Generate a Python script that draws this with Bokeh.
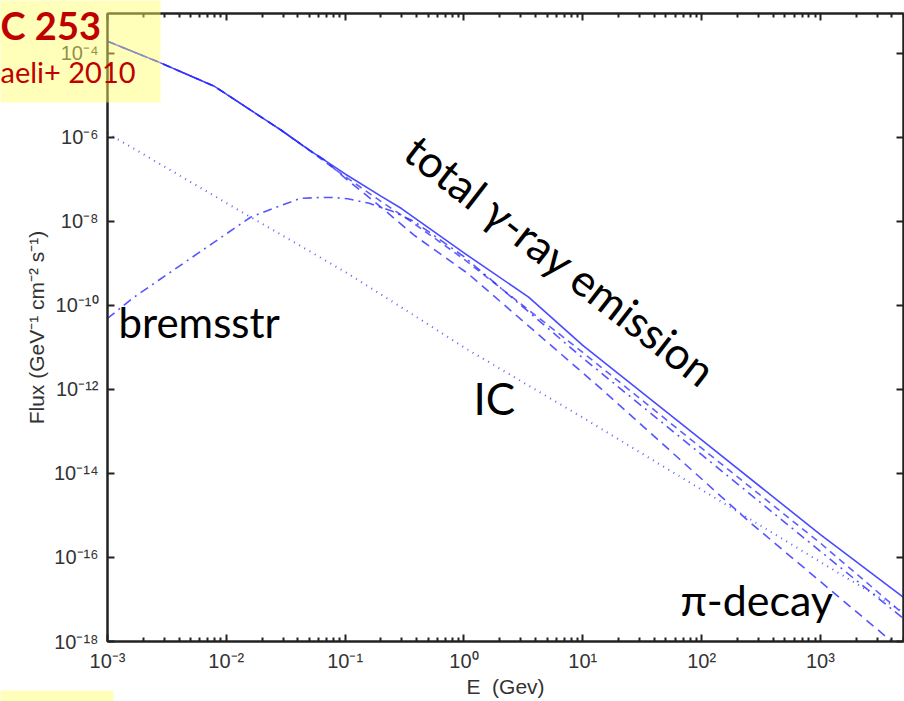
from bokeh.plotting import figure
from bokeh.models import (LinearAxis, FixedTicker, Label, Range1d, CustomJSTickFormatter)
from bokeh.core.properties import value
from bokeh.embed import file_html
from bokeh.resources import INLINE
import math

# ---------------- data ----------------
total_E = [1e-3, 2.7e-3, 7.9e-3, 0.029, 0.05, 0.1, 0.2, 0.3, 1.0, 3.5, 10, 100, 1000, 5000]
total_F = [1.95e-4, 6.2e-5, 1.66e-5, 1.48e-6, 5.0e-7, 1.35e-7, 4.0e-8, 2.0e-8, 1.78e-9,
           1.58e-10, 1.12e-11, 6.3e-14, 3.5e-16, 1.12e-17]

# upper dashed component (merges with the total below ~50 MeV)
dashA_E = [1e-3, 2.7e-3, 7.9e-3, 0.029, 0.05, 0.1, 0.2, 0.38, 1.0, 10, 100, 537, 1000, 5000]
dashA_F = [1.95e-4, 6.2e-5, 1.66e-5, 1.48e-6, 4.9e-7, 1.17e-7, 3.0e-8, 8.9e-9, 1.26e-9,
           7.6e-12, 4.0e-14, 8.9e-16, 2.2e-16, 4.5e-18]

# lower dashed component
dashB_E = [1e-3, 2.7e-3, 7.9e-3, 0.029, 0.05, 0.066, 0.1, 0.2, 0.38, 1.08, 14.2, 261, 3980]
dashB_F = [1.95e-4, 6.2e-5, 1.66e-5, 1.48e-6, 5.0e-7, 3.0e-7, 1.07e-7, 2.2e-8, 4.7e-9,
           5.75e-10, 1.05e-12, 6.5e-16, 1e-18]

brems_E = [1e-3, 1.66e-3, 5e-3, 0.016, 0.03, 0.042, 0.06, 0.08, 0.105, 0.16, 0.25, 0.38,
           1, 10, 100, 1000, 5000]
brems_F = [4.9e-11, 1.55e-10, 1.32e-9, 1.26e-8, 2.5e-8, 3.55e-8, 3.7e-8, 3.7e-8, 3.47e-8,
           2.7e-8, 1.74e-8, 1.0e-8, 1.45e-9, 5.6e-12, 2.8e-14, 1.4e-16, 3.5e-18]

ic_E = [1e-3, 0.01, 0.1, 0.3, 1, 10, 100, 1000, 5000]
ic_F = [1.26e-6, 2.75e-8, 6.3e-10, 8.9e-11, 1.0e-11, 2.14e-13, 4.1e-15, 7.8e-17, 5.0e-18]

x_major_ticks = [1e-3, 1e-2, 1e-1, 1e0, 1e1, 1e2, 1e3]
x_tick_labels = ["10\u207b\u00b3", "10\u207b\u00b2", "10\u207b\u00b9", "10\u2070", "10\u00b9", "10\u00b2", "10\u00b3"]
y_major_ticks = [1e-18, 1e-16, 1e-14, 1e-12, 1e-10, 1e-8, 1e-6, 1e-4]
y_tick_labels = ["10\u207b\u00b9\u2078", "10\u207b\u00b9\u2076", "10\u207b\u00b9\u2074", "10\u207b\u00b9\u00b2",
                 "10\u207b\u00b9\u2070", "10\u207b\u2078", "10\u207b\u2076", "10\u207b\u2074"]
x_minor_ticks = [m * d for d in x_major_ticks for m in range(2, 10)]

X0, X1 = 1e-3, 5e3
Y0, Y1 = 1e-18, 10 ** -3.05

# ---------------- figure ----------------
W, H = 904, 701
BL, BR, BT, BB = 107, 1, 13, 60
p = figure(width=W, height=H, x_axis_type="log", y_axis_type="log",
           x_range=Range1d(X0, X1), y_range=Range1d(Y0, Y1),
           output_backend="svg", toolbar_location=None,
           min_border_left=BL, min_border_right=BR, min_border_top=BT, min_border_bottom=BB)
p.background_fill_color = "white"
p.border_fill_color = "white"
p.grid.visible = False
p.outline_line_color = "#222222"
p.outline_line_width = 2

FW, FH = W - BL - BR, H - BT - BB

def canvas_x(px):
    lx0, lx1 = math.log10(X0), math.log10(X1)
    return 10 ** (lx0 + (px - BL) / FW * (lx1 - lx0))

def canvas_y(py):
    ly0, ly1 = math.log10(Y0), math.log10(Y1)
    return 10 ** (ly0 + (BT + FH - py) / FH * (ly1 - ly0))

LOOKUP = """
for (let i = 0; i < vals.length; i++) {
  if (Math.abs(Math.log10(tick) - Math.log10(vals[i])) < 1e-6) return labs[i];
}
return '';
"""

def style_axis(ax, ticks, minor, labs=None):
    ax.ticker = FixedTicker(ticks=ticks, minor_ticks=minor)
    ax.axis_line_color = "#222222"
    ax.axis_line_width = 2
    ax.major_tick_in = 7
    ax.major_tick_out = 0
    ax.minor_tick_in = 4
    ax.minor_tick_out = 0
    ax.major_tick_line_color = "#222222"
    ax.minor_tick_line_color = "#222222"
    ax.major_tick_line_width = 2
    ax.minor_tick_line_width = 2
    ax.major_label_text_font = "Liberation Sans"
    ax.axis_label_text_font = "Liberation Sans"
    ax.axis_label_text_font_style = "normal"
    ax.axis_label_text_color = "#333333"
    if labs is not None:
        ax.formatter = CustomJSTickFormatter(args=dict(vals=ticks, labs=labs), code=LOOKUP)
        ax.major_label_text_font_size = "20px"
        ax.major_label_text_color = "#333333"
    else:
        ax.formatter = CustomJSTickFormatter(code="return ' ';")
        ax.major_label_text_font_size = "6px"
        ax.major_label_text_alpha = 0
        ax.major_label_standoff = 0

style_axis(p.xaxis[0], x_major_ticks, x_minor_ticks, x_tick_labels)
style_axis(p.yaxis[0], y_major_ticks, [], y_tick_labels)
p.xaxis[0].major_label_standoff = 8
p.yaxis[0].major_label_standoff = 9
p.xaxis[0].axis_label = "E\u00a0\u00a0(Gev)"
p.xaxis[0].axis_label_text_font_size = "21px"
p.xaxis[0].axis_label_standoff = 0
p.yaxis[0].axis_label = "Flux (GeV\u207b\u00b9 cm\u207b\u00b2 s\u207b\u00b9)"
p.yaxis[0].axis_label_text_font_size = "21px"
p.yaxis[0].axis_label_standoff = 3

top_ax = LinearAxis()
style_axis(top_ax, x_major_ticks, x_minor_ticks)
p.add_layout(top_ax, "above")
right_ax = LinearAxis()
style_axis(right_ax, y_major_ticks, [])
p.add_layout(right_ax, "right")

# ---------------- curves ----------------
blue = "#2a2aff"
p.line(ic_E, ic_F, line_color=blue, line_width=2, line_dash="1 5", line_alpha=0.75)
p.line(brems_E, brems_F, line_color=blue, line_width=1.6, line_dash="9 5 2 5", line_alpha=0.8)
p.line(dashB_E, dashB_F, line_color=blue, line_width=1.6, line_dash="9 6", line_alpha=0.8)
p.line(dashA_E, dashA_F, line_color=blue, line_width=1.6, line_dash="7 5", line_alpha=0.75)
p.line(total_E, total_F, line_color=blue, line_width=1.6, line_alpha=0.85)

# ---------------- annotations (screen units relative to the frame) ----------------
fnt = "Lato"
def lab(x, y, text, size, **kw):
    p.add_layout(Label(x=x, y=y, x_units="screen", y_units="screen", text=text,
                       text_font=fnt, text_font_size=size, text_color="black", **kw))

lab(11, 295, "bremsstr", "42px")
lab(366, 218, "IC", "44px")
lab(573, 17, "\u03c0-decay", "43px")
lab(288, 477, "total \u03b3-ray emission", "44px", angle=-0.66)

# yellow overlay boxes of the cropped title slide, drawn above the axes
p.quad(left=[canvas_x(0), canvas_x(0)], right=[canvas_x(160), canvas_x(113)],
       top=[canvas_y(0), canvas_y(690)], bottom=[canvas_y(102), canvas_y(701)],
       fill_color="#ffff66", fill_alpha=0.45, line_color=None, level="overlay")
p.text(x=[canvas_x(0)], y=[canvas_y(47)], text=["C 253"], text_font=value(fnt),
       text_font_style="bold", text_font_size="38px", text_color="#c00000",
       text_baseline="bottom", level="overlay")
p.text(x=[canvas_x(0)], y=[canvas_y(88)], text=["aeli+ 2010"], text_font=value(fnt),
       text_font_size="29px", text_color="#c00000", text_baseline="bottom", level="overlay")

open("out.html", "w").write(file_html(p, INLINE))
